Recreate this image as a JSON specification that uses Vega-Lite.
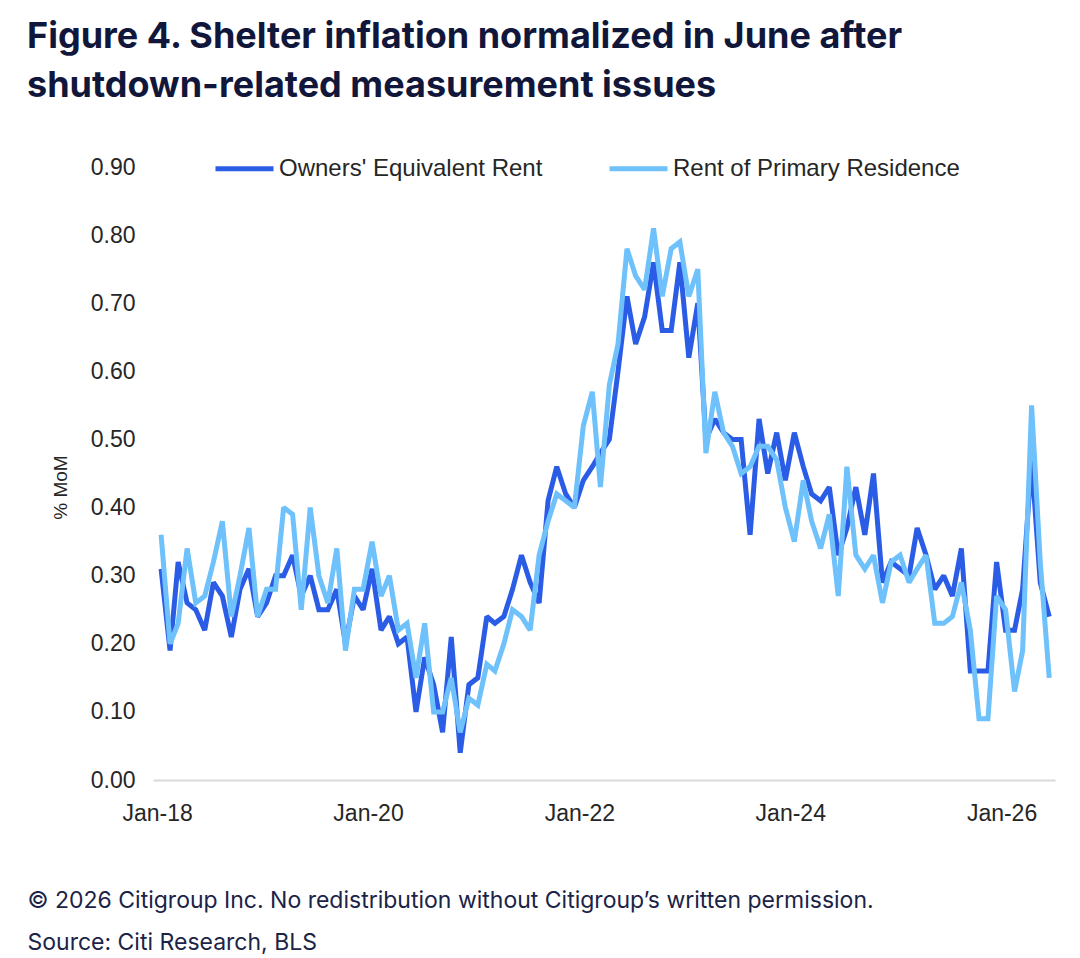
{
  "$schema": "https://vega.github.io/schema/vega-lite/v6.json",
  "description": "Shelter inflation, OER vs rent of primary residence, % MoM",
  "width": 902,
  "height": 613,
  "autosize": {"type": "none"},
  "padding": {"left": 153, "top": 167, "right": 25, "bottom": 178},
  "background": "white",
  "title": {
    "text": ["Figure 4. Shelter inflation normalized in June after", "shutdown-related measurement issues"],
    "anchor": "start",
    "frame": "group",
    "dx": -126,
    "offset": 32,
    "font": "Inter",
    "fontWeight": "bold",
    "fontSize": 36,
    "lineHeight": 49,
    "color": "#11173a"
  },
  "data": {
    "values": [
      {"date": "2018-01-15", "oer": 0.31, "rent": 0.36},
      {"date": "2018-02-15", "oer": 0.19, "rent": 0.20},
      {"date": "2018-03-15", "oer": 0.32, "rent": 0.23},
      {"date": "2018-04-15", "oer": 0.26, "rent": 0.34},
      {"date": "2018-05-15", "oer": 0.25, "rent": 0.26},
      {"date": "2018-06-15", "oer": 0.22, "rent": 0.27},
      {"date": "2018-07-15", "oer": 0.29, "rent": 0.32},
      {"date": "2018-08-15", "oer": 0.27, "rent": 0.38},
      {"date": "2018-09-15", "oer": 0.21, "rent": 0.24},
      {"date": "2018-10-15", "oer": 0.28, "rent": 0.30},
      {"date": "2018-11-15", "oer": 0.31, "rent": 0.37},
      {"date": "2018-12-15", "oer": 0.24, "rent": 0.24},
      {"date": "2019-01-15", "oer": 0.26, "rent": 0.28},
      {"date": "2019-02-15", "oer": 0.30, "rent": 0.28},
      {"date": "2019-03-15", "oer": 0.30, "rent": 0.40},
      {"date": "2019-04-15", "oer": 0.33, "rent": 0.39},
      {"date": "2019-05-15", "oer": 0.27, "rent": 0.25},
      {"date": "2019-06-15", "oer": 0.30, "rent": 0.40},
      {"date": "2019-07-15", "oer": 0.25, "rent": 0.30},
      {"date": "2019-08-15", "oer": 0.25, "rent": 0.26},
      {"date": "2019-09-15", "oer": 0.28, "rent": 0.34},
      {"date": "2019-10-15", "oer": 0.20, "rent": 0.19},
      {"date": "2019-11-15", "oer": 0.27, "rent": 0.28},
      {"date": "2019-12-15", "oer": 0.25, "rent": 0.28},
      {"date": "2020-01-15", "oer": 0.31, "rent": 0.35},
      {"date": "2020-02-15", "oer": 0.22, "rent": 0.27},
      {"date": "2020-03-15", "oer": 0.24, "rent": 0.30},
      {"date": "2020-04-15", "oer": 0.20, "rent": 0.22},
      {"date": "2020-05-15", "oer": 0.21, "rent": 0.23},
      {"date": "2020-06-15", "oer": 0.10, "rent": 0.15},
      {"date": "2020-07-15", "oer": 0.18, "rent": 0.23},
      {"date": "2020-08-15", "oer": 0.14, "rent": 0.10},
      {"date": "2020-09-15", "oer": 0.07, "rent": 0.10},
      {"date": "2020-10-15", "oer": 0.21, "rent": 0.15},
      {"date": "2020-11-15", "oer": 0.04, "rent": 0.07},
      {"date": "2020-12-15", "oer": 0.14, "rent": 0.12},
      {"date": "2021-01-15", "oer": 0.15, "rent": 0.11},
      {"date": "2021-02-15", "oer": 0.24, "rent": 0.17},
      {"date": "2021-03-15", "oer": 0.23, "rent": 0.16},
      {"date": "2021-04-15", "oer": 0.24, "rent": 0.20},
      {"date": "2021-05-15", "oer": 0.28, "rent": 0.25},
      {"date": "2021-06-15", "oer": 0.33, "rent": 0.24},
      {"date": "2021-07-15", "oer": 0.29, "rent": 0.22},
      {"date": "2021-08-15", "oer": 0.26, "rent": 0.33},
      {"date": "2021-09-15", "oer": 0.41, "rent": 0.38},
      {"date": "2021-10-15", "oer": 0.46, "rent": 0.42},
      {"date": "2021-11-15", "oer": 0.42, "rent": 0.41},
      {"date": "2021-12-15", "oer": 0.40, "rent": 0.40},
      {"date": "2022-01-15", "oer": 0.44, "rent": 0.52},
      {"date": "2022-02-15", "oer": 0.46, "rent": 0.57},
      {"date": "2022-03-15", "oer": 0.48, "rent": 0.43},
      {"date": "2022-04-15", "oer": 0.50, "rent": 0.58},
      {"date": "2022-05-15", "oer": 0.60, "rent": 0.64},
      {"date": "2022-06-15", "oer": 0.71, "rent": 0.78},
      {"date": "2022-07-15", "oer": 0.64, "rent": 0.74},
      {"date": "2022-08-15", "oer": 0.68, "rent": 0.72},
      {"date": "2022-09-15", "oer": 0.76, "rent": 0.81},
      {"date": "2022-10-15", "oer": 0.66, "rent": 0.71},
      {"date": "2022-11-15", "oer": 0.66, "rent": 0.78},
      {"date": "2022-12-15", "oer": 0.76, "rent": 0.79},
      {"date": "2023-01-15", "oer": 0.62, "rent": 0.71},
      {"date": "2023-02-15", "oer": 0.70, "rent": 0.75},
      {"date": "2023-03-15", "oer": 0.50, "rent": 0.48},
      {"date": "2023-04-15", "oer": 0.53, "rent": 0.57},
      {"date": "2023-05-15", "oer": 0.51, "rent": 0.51},
      {"date": "2023-06-15", "oer": 0.50, "rent": 0.49},
      {"date": "2023-07-15", "oer": 0.50, "rent": 0.45},
      {"date": "2023-08-15", "oer": 0.36, "rent": 0.46},
      {"date": "2023-09-15", "oer": 0.53, "rent": 0.49},
      {"date": "2023-10-15", "oer": 0.45, "rent": 0.49},
      {"date": "2023-11-15", "oer": 0.51, "rent": 0.47},
      {"date": "2023-12-15", "oer": 0.44, "rent": 0.40},
      {"date": "2024-01-15", "oer": 0.51, "rent": 0.35},
      {"date": "2024-02-15", "oer": 0.46, "rent": 0.44},
      {"date": "2024-03-15", "oer": 0.42, "rent": 0.38},
      {"date": "2024-04-15", "oer": 0.41, "rent": 0.34},
      {"date": "2024-05-15", "oer": 0.43, "rent": 0.39},
      {"date": "2024-06-15", "oer": 0.33, "rent": 0.27},
      {"date": "2024-07-15", "oer": 0.37, "rent": 0.46},
      {"date": "2024-08-15", "oer": 0.43, "rent": 0.33},
      {"date": "2024-09-15", "oer": 0.36, "rent": 0.31},
      {"date": "2024-10-15", "oer": 0.45, "rent": 0.33},
      {"date": "2024-11-15", "oer": 0.29, "rent": 0.26},
      {"date": "2024-12-15", "oer": 0.32, "rent": 0.32},
      {"date": "2025-01-15", "oer": 0.31, "rent": 0.33},
      {"date": "2025-02-15", "oer": 0.30, "rent": 0.29},
      {"date": "2025-03-15", "oer": 0.37, "rent": 0.31},
      {"date": "2025-04-15", "oer": 0.33, "rent": 0.33},
      {"date": "2025-05-15", "oer": 0.28, "rent": 0.23},
      {"date": "2025-06-15", "oer": 0.30, "rent": 0.23},
      {"date": "2025-07-15", "oer": 0.27, "rent": 0.24},
      {"date": "2025-08-15", "oer": 0.34, "rent": 0.29},
      {"date": "2025-09-15", "oer": 0.16, "rent": 0.22},
      {"date": "2025-10-15", "oer": 0.16, "rent": 0.09},
      {"date": "2025-11-15", "oer": 0.16, "rent": 0.09},
      {"date": "2025-12-15", "oer": 0.32, "rent": 0.27},
      {"date": "2026-01-15", "oer": 0.22, "rent": 0.25},
      {"date": "2026-02-15", "oer": 0.22, "rent": 0.13},
      {"date": "2026-03-15", "oer": 0.28, "rent": 0.19},
      {"date": "2026-04-15", "oer": 0.47, "rent": 0.55},
      {"date": "2026-05-15", "oer": 0.29, "rent": 0.32},
      {"date": "2026-06-15", "oer": 0.24, "rent": 0.15}
    ]
  },
  "transform": [
    {"fold": ["oer", "rent"], "as": ["series", "value"]}
  ],
  "mark": {"type": "line", "strokeWidth": 5, "strokeJoin": "miter", "strokeMiterLimit": 2},
  "encoding": {
    "x": {
      "field": "date",
      "type": "temporal",
      "scale": {
        "domain": [
          {"year": 2017, "month": 12, "date": 18},
          {"year": 2026, "month": 7, "date": 5}
        ]
      },
      "axis": {
        "values": [
          {"year": 2018, "month": 1, "date": 1},
          {"year": 2020, "month": 1, "date": 1},
          {"year": 2022, "month": 1, "date": 1},
          {"year": 2024, "month": 1, "date": 1},
          {"year": 2026, "month": 1, "date": 1}
        ],
        "format": "%b-%y",
        "grid": false,
        "ticks": false,
        "domainColor": "#d9d9d9",
        "domainWidth": 2,
        "labelFont": "Liberation Sans",
        "labelFontSize": 23,
        "labelColor": "#262626",
        "labelPadding": 22,
        "labelOverlap": false,
        "title": ["© 2026 Citigroup Inc. No redistribution without Citigroup’s written permission.", "Source: Citi Research, BLS"],
        "titleFont": "Inter",
        "titleFontSize": 23,
        "titleFontWeight": "normal",
        "titleColor": "#1b2347",
        "titleAnchor": "start",
        "titleAlign": "left",
        "titleBaseline": "alphabetic",
        "titleX": -126,
        "titleY": 127,
        "titleLineHeight": 42
      }
    },
    "y": {
      "field": "value",
      "type": "quantitative",
      "scale": {"domain": [0, 0.9], "nice": false},
      "axis": {
        "values": [0, 0.1, 0.2, 0.3, 0.4, 0.5, 0.6, 0.7, 0.8, 0.9],
        "format": ".2f",
        "grid": false,
        "ticks": false,
        "domain": false,
        "labelFont": "Liberation Sans",
        "labelFontSize": 23,
        "labelColor": "#262626",
        "labelPadding": 18,
        "title": "% MoM",
        "titleFont": "Liberation Sans",
        "titleFontSize": 19,
        "titleFontWeight": "normal",
        "titleColor": "#262626",
        "titleAngle": -90,
        "titleAlign": "center",
        "titleBaseline": "middle",
        "titleX": -93,
        "titleY": 320
      }
    },
    "color": {
      "field": "series",
      "type": "nominal",
      "scale": {"domain": ["oer", "rent"], "range": ["#2a5ce6", "#6ec1fb"]},
      "legend": {
        "orient": "none",
        "legendX": 60,
        "legendY": -30,
        "direction": "horizontal",
        "columns": 2,
        "title": null,
        "symbolType": "stroke",
        "symbolSize": 3364,
        "symbolStrokeWidth": 5,
        "labelFont": "Liberation Sans",
        "labelFontSize": 24,
        "labelColor": "#262626",
        "labelOffset": 3,
        "columnPadding": 56,
        "labelLimit": 400,
        "labelExpr": "datum.label == 'oer' ? \"Owners' Equivalent Rent\" : 'Rent of Primary Residence'"
      }
    }
  },
  "config": {
    "view": {"stroke": null}
  }
}
